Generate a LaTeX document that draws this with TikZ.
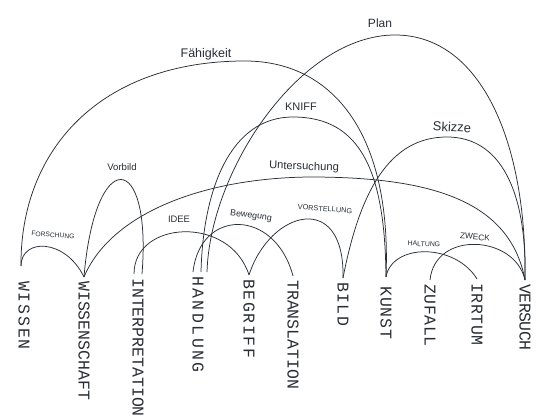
\documentclass[tikz,border=0pt]{standalone}
\usepackage{fontspec}
\newfontfamily\wordfont{Liberation Mono}
\newfontfamily\labelfont{Liberation Sans}
\definecolor{ink}{RGB}{40,46,52}

\begin{document}
\begin{tikzpicture}[x=1pt, y=-1pt,
  word/.style={rotate=-90, anchor=west, inner xsep=4pt, inner ysep=0pt, text=ink, font=\wordfont\addfontfeature{LetterSpace=#1}\fontsize{16.5}{18}\selectfont},
  word/.default=0,
  tag/.style={text=ink, inner sep=1pt, font=\labelfont\fontsize{#1}{#1}\selectfont},
  bow/.style={draw=ink, line width=0.75pt}
]
  \useasboundingbox (0,0) rectangle (537,419);

  \node[word=11] (wissen) at (24,277) {WISSEN};
  \node[word] (wissenschaft) at (84,277) {WISSENSCHAFT};
  \node[word] (interpretation) at (138,274) {INTERPRETATION};
  \node[word=15] (handlung) at (198,272) {HANDLUNG};
  \node[word=10] (begriff) at (249,275) {BEGRIFF};
  \node[word] (translation) at (293,276) {TRANSLATION};
  \node[word=9] (bild) at (343,278) {BILD};
  \node[word=6] (kunst) at (386,282) {KUNST};
  \node[word=4] (zufall) at (430,280) {ZUFALL};
  \node[word=4] (irrtum) at (477,279) {IRRTUM};
  \node[word=-3] (versuch) at (525,280) {VERSUCH};

  \draw[bow] ([shift={(-3pt,11pt)}]wissen.west) .. controls (21,238) and (65,238) .. (wissenschaft.west);
  \draw[bow] (wissenschaft.west) .. controls (95,145) and (152,150) .. ([xshift=4pt]interpretation.west);
  \draw[bow] ([shift={(-3pt,11pt)}]wissen.west) .. controls (20,150) and (100,61) .. (245,61)
    .. controls (330,61) and (392,130) .. ([yshift=5pt]kunst.west);
  \draw[bow] ([xshift=3pt]handlung.west) .. controls (203,190) and (230,117) .. (293,117)
    .. controls (360,117) and (385,170) .. ([yshift=5pt]kunst.west);
  \draw[bow] ([xshift=9pt]handlung.west) .. controls (210,170) and (300,35) .. (395,35)
    .. controls (480,35) and (527,140) .. (versuch.west);
  \draw[bow] (wissenschaft.west) .. controls (110,215) and (200,178) .. (310,177)
    .. controls (430,177) and (510,200) .. (versuch.west);
  \draw[bow] (bild.west) .. controls (360,190) and (390,137) .. (447,137)
    .. controls (500,137) and (527,190) .. (versuch.west);
  \draw[bow] ([xshift=-4pt]interpretation.west) .. controls (134,220) and (230,215) .. (begriff.west);
  \draw[bow] ([xshift=-5pt]handlung.west) .. controls (200,208) and (275,208) .. (translation.west);
  \draw[bow] (begriff.west) .. controls (270,210) and (345,190) .. (bild.west);
  \draw[bow] ([yshift=5pt]kunst.west) .. controls (392,243) and (455,243) .. (irrtum.west);
  \draw[bow] (zufall.west) .. controls (435,230) and (515,235) .. (versuch.west);

  \node[tag=12.5] (faehigkeit) at (206,54) {Fähigkeit};
  \node[tag=12] (plan) at (380,23) {Plan};
  \node[tag=9.6] (vorbild) at (122,167) {Vorbild};
  \node[tag=6.7, rotate=-4] (forschung) at (53,235) {FORSCHUNG};
  \node[tag=9.4] (idee) at (179,219) {IDEE};
  \node[tag=8.9, rotate=-8] (bewegung) at (251,216) {Bewegung};
  \node[tag=7.3, rotate=-4] (vorstellung) at (325,209) {VORSTELLUNG};
  \node[tag=11] (kniff) at (301,107) {KNIFF};
  \node[tag=11.2, rotate=-2] (untersuchung) at (304,167) {Untersuchung};
  \node[tag=13, rotate=-3] (skizze) at (452,127) {Skizze};
  \node[tag=6.9, rotate=-3] (haltung) at (424,244) {HALTUNG};
  \node[tag=8.3, rotate=-5] (zweck) at (475,237) {ZWECK};
\end{tikzpicture}
\end{document}
